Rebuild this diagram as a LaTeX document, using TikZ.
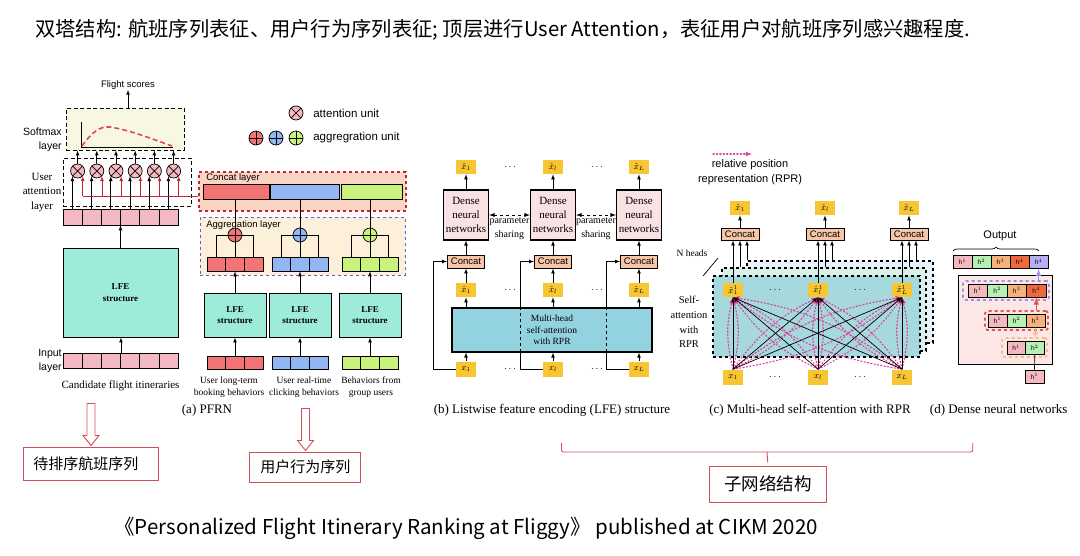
\documentclass[tikz,border=0pt]{standalone}
\usepackage{fontspec}
\setmainfont{Liberation Serif}
\setsansfont{Liberation Sans}
\newfontfamily\cjk{Noto Sans CJK SC}
\usetikzlibrary{positioning,decorations.pathreplacing}
\newcommand{\setsz}[2]{\fontsize{#1}{#2}\selectfont}

\definecolor{cellpink}{HTML}{F4B8C1}
\definecolor{lfegreen}{HTML}{9DEBD9}
\definecolor{softfill}{HTML}{F8F8E2}
\definecolor{softcurve}{HTML}{E2445A}
\definecolor{catred}{HTML}{C0263C}
\definecolor{catfill}{HTML}{F9D5C2}
\definecolor{aggline}{HTML}{6A5ACD}
\definecolor{aggfill}{HTML}{FDF0DA}
\definecolor{barred}{HTML}{F27474}
\definecolor{barblue}{HTML}{92B6F2}
\definecolor{bargreen}{HTML}{C8F27C}
\definecolor{xyellow}{HTML}{F9C633}
\definecolor{densefill}{HTML}{F9E2E4}
\definecolor{concatfill}{HTML}{F7C6A8}
\definecolor{mhfill}{HTML}{93D3DF}
\definecolor{rprpink}{HTML}{E0409E}
\definecolor{headA}{HTML}{A6D9DE}
\definecolor{headB}{HTML}{D8EFEA}
\definecolor{headC}{HTML}{E7F2FA}
\definecolor{dnnfill}{HTML}{FDE6E6}
\definecolor{hpink}{HTML}{F4B8C1}
\definecolor{hgreen}{HTML}{B6F0B2}
\definecolor{horange}{HTML}{F6B27C}
\definecolor{hred}{HTML}{EE6A3C}
\definecolor{hlav}{HTML}{B6B0F2}
\definecolor{dnnpurple}{HTML}{9C90EA}
\definecolor{dnnred}{HTML}{E3563C}
\definecolor{dnnorange}{HTML}{F6BC88}
\definecolor{annored}{HTML}{D24E58}

\begin{document}
\begin{tikzpicture}[x=1pt, y=-1pt, >=latex, line width=0.7pt, font=\rmfamily]
  \tikzstyle{lab}=[inner sep=0pt, align=center]
  \tikzstyle{cell}=[draw, fill=cellpink, minimum width=19.2, minimum height=16, inner sep=0pt]
  \tikzstyle{bcell}=[draw, minimum width=18.7, minimum height=14, inner sep=0pt]
  \tikzstyle{att}=[circle, draw, fill=cellpink, minimum size=14, inner sep=0pt,
                   path picture={\draw (path picture bounding box.north west) -- (path picture bounding box.south east)
                                       (path picture bounding box.north east) -- (path picture bounding box.south west);}]
  \tikzstyle{agg}=[circle, draw, minimum size=14, inner sep=0pt,
                   path picture={\draw (path picture bounding box.north) -- (path picture bounding box.south)
                                       (path picture bounding box.west) -- (path picture bounding box.east);}]
  \tikzstyle{softbox}=[draw, dash pattern=on 4pt off 2.5pt, line width=1pt, fill=softfill, inner sep=0pt]
  \tikzstyle{attbox}=[draw, dash pattern=on 4pt off 2.5pt, line width=1pt, inner sep=0pt]
  \tikzstyle{catbox}=[draw=catred, dashed, line width=1.6pt, fill=catfill, inner sep=0pt]
  \tikzstyle{aggbox}=[draw=aggline, dashed, line width=1pt, fill=aggfill, inner sep=0pt]
  \tikzstyle{bar}=[draw, line width=1pt, minimum height=15, inner sep=0pt]
  \tikzstyle{lfebox}=[draw, line width=1pt, fill=lfegreen, align=center, inner sep=0pt,
                      font=\bfseries\setsz{9}{11.7}]
  \tikzstyle{xbox}=[fill=xyellow, minimum width=20, minimum height=14, inner sep=0pt, font=\setsz{9}{10}]
  \tikzstyle{dense}=[draw, line width=1.2pt, fill=densefill, minimum width=45, minimum height=50,
                     align=center, inner sep=0pt, font=\setsz{11}{14}]
  \tikzstyle{concat}=[draw, line width=1pt, fill=concatfill, minimum width=37, minimum height=13,
                      inner sep=0pt, font=\sffamily\setsz{9.5}{10}]
  \tikzstyle{mhbox}=[draw, line width=1.2pt, fill=mhfill, align=center, inner sep=0pt, font=\setsz{9.5}{11.5}]
  \tikzstyle{headbox}=[draw, dashed, line width=1.2pt, inner sep=0pt]
  \tikzstyle{rpr}=[rprpink, line width=1.2pt, dash pattern=on 1.2pt off 2.2pt, line cap=round, ->]
  \tikzstyle{hcell}=[draw, minimum width=19, minimum height=13, inner sep=0pt, font=\sffamily\setsz{6.5}{7}]
  \tikzstyle{grpbox}=[dashed, line width=1.8pt, rounded corners=2.5pt, inner sep=0pt]
  \tikzstyle{redbox}=[draw=annored, line width=0.9pt, inner sep=0pt]
  \tikzset{hollowdn/.pic={\draw[annored, fill=white, line width=0.9pt]
      (-4,0) -- (4,0) -- (4,32) -- (8,32) -- (0,42) -- (-8,32) -- (-4,32) -- cycle;}}

  \useasboundingbox (0,0) rectangle (1080,555);

  % ================= tieu de va chu thich duoi =================
  \node[lab, anchor=west, font=\cjk\setsz{20.3}{22}] (title) at (35,30)
    {双塔结构: 航班序列表征、用户行为序列表征; 顶层进行User Attention，表征用户对航班序列感兴趣程度.};
  \node[lab, anchor=west, font=\cjk\setsz{20.5}{22}] (foot) at (114,528)
    {《Personalized Flight Itinerary Ranking at Fliggy》 published at CIKM 2020};

  % ================= (a) PFRN: cot trai =================
  \node[lab, font=\sffamily\setsz{9.5}{10}] (fscore) at (128,85) {Flight scores};
  \node[softbox, minimum width=118, minimum height=42] (soft) at (125,129) {};
  \node[lab, anchor=east, align=right, font=\sffamily\setsz{10.5}{14}] (softlab) at (62,140) {Softmax\\layer};
  \draw (81,122) -- (81,147) -- (173,147);
  \draw[softcurve, line width=1.6pt, dash pattern=on 5pt off 3pt]
    (82,146) .. controls (92,132) and (100,126) .. (110,127)
             .. controls (130,130) and (155,140) .. (172,146);
  \draw[->] (fscore.south |- soft.north) -- (fscore.south);

  \node[attbox, minimum width=128, minimum height=48] (attl) at (127,182) {};
  \node[lab, font=\setsz{11}{14.5}] (attlab) at (42,192.5) {User\\attention\\layer};
  \coordinate (ujoin) at (200,196);
  \foreach \i in {1,...,6} {
    \node[cell] (e\i) at ({53.4+19.2*\i},217) {};
    \node[att] (u\i) at ({58.4+19.2*\i},171) {};
    \draw[->] (u\i.-135 |- e\i.north) -- (u\i.-135);
    \draw[->] (u\i.north) -- (u\i.north |- soft.south);
  }

  \node[lfebox, minimum width=115, minimum height=89] (lfe0) at (120.5,292.5) {LFE\\structure};
  \draw[->] (lfe0.north) -- (lfe0.north |- e1.south);
  \foreach \i in {1,...,6}
    \node[cell, minimum height=15] (in\i) at ({53.4+19.2*\i},360.5) {};
  \draw[->] (in3.north east) -- (in3.north east |- lfe0.south);
  \node[lab, anchor=east, align=right, font=\sffamily\setsz{10.5}{14}] (inlab) at (62,361) {Input\\layer};
  \node[lab, font=\setsz{11}{13}] (candlab) at (120.5,386) {Candidate flight itineraries};

  % ================= (a) PFRN: nhanh hanh vi nguoi dung =================
  \node[att] (legatt) at (296,113) {};
  \node[lab, anchor=west, font=\sffamily\setsz{11.5}{13}] (legattlab) at (313,113) {attention unit};
  \node[agg, fill=barred] (legr) at (256,138) {};
  \node[agg, fill=barblue] (legb) at (276,138) {};
  \node[agg, fill=bargreen] (legg) at (296,138) {};
  \node[lab, anchor=west, font=\sffamily\setsz{11.5}{13}] (legagglab) at (313,138) {aggregration unit};

  \node[catbox, minimum width=207, minimum height=39] (catl) at (302.5,191.5) {};
  \node[lab, anchor=west, font=\sffamily\setsz{9.5}{10}] (catlab) at (206,178) {Concat layer};
  \node[bar, fill=barred, minimum width=66] (cbr) at (236,191.5) {};
  \node[bar, fill=barblue, minimum width=69] (cbb) at (304.5,191.5) {};
  \node[bar, fill=bargreen, minimum width=61] (cbg) at (371.5,191.5) {};
  % duong do: concat layer -> cac attention unit
  \draw[catred] (catl.west |- ujoin) -- (u1.-45 |- ujoin);
  \foreach \i in {1,...,6}
    \draw[catred, ->] (u\i.-45 |- ujoin) -- (u\i.-45);

  \node[aggbox, minimum width=205, minimum height=58] (aggl) at (302.5,246) {};
  \node[lab, anchor=west, font=\sffamily\setsz{9.5}{10}] (agglab) at (206,225) {Aggregation layer};
  \foreach \g/\gx/\col in {r/235/barred, b/300/barblue, g/370/bargreen} {
    \node[agg, fill=\col] (a\g) at (\gx,235) {};
    \foreach \k/\dx in {1/-18.7, 2/0, 3/18.7} {
      \node[bcell, fill=\col] (m\g\k) at ({\gx+\dx},264) {};
      \node[bcell, fill=\col, minimum height=13] (b\g\k) at ({\gx+\dx},362.5) {};
    }
    \draw (m\g2.north) -- (a\g.south);
    \draw (m\g1.north) |- (a\g.west);
    \draw (m\g3.north) |- (a\g.east);
    \draw (a\g.north) -- (a\g.north |- cb\g.south);
    \node[lfebox, minimum width=62, minimum height=44] (l\g) at (\gx,315) {LFE\\structure};
    \draw[->] (l\g.north) -- (m\g2.south);
    \draw[->] (b\g2.north) -- (l\g.south);
  }
  \node[lab, font=\setsz{9.5}{11.7}] (behr) at (229,387.5) {User long-term\\booking behaviors};
  \node[lab, font=\setsz{9.5}{11.7}] (behb) at (304,387.5) {User real-time\\clicking behaviors};
  \node[lab, font=\setsz{9.5}{11.7}] (behg) at (371,387.5) {Behaviors from\\group users};
  \node[lab, font=\setsz{13}{14}] (capa) at (207,410) {(a) PFRN};

  % ================= (b) LFE structure =================
  \foreach \i/\bx/\lbl in {1/466/1, 2/553/l, 3/639/L} {
    \node[xbox] (bt\i) at (\bx,167) {$\hat{x}_{\lbl}$};
    \node[dense] (bd\i) at (\bx,215) {Dense\\neural\\networks};
    \node[concat] (bc\i) at (\bx,261.5) {Concat};
    \node[xbox] (bm\i) at (\bx,290) {$\hat{x}_{\lbl}$};
    \node[xbox, minimum height=15] (bb\i) at (\bx,369) {$x_{\lbl}$};
  }
  \foreach \i in {1,2,3}
    \draw[->] (bb\i.west) -- ++(-22,0) |- (bc\i.west);
  \node[mhbox, minimum width=200, minimum height=44] (mh) at (552,330) {Multi-head\\self-attention\\with RPR};
  \foreach \i in {2,3}
    \draw[dashed, line width=1pt] ([xshift=-22]bb\i.west |- mh.north) -- ([xshift=-22]bb\i.west |- mh.south);
  \foreach \i in {1,2,3} {
    \draw[->] (bb\i.north) -- (bb\i.north |- mh.south);
    \draw[->] (bm\i.south |- mh.north) -- (bm\i.south);
    \draw[->] (bm\i.north) -- (bc\i.south);
    \draw[->] (bc\i.north) -- (bd\i.south);
    \draw[->] (bd\i.north) -- (bt\i.south);
  }
  \draw[<->, dashed, line width=0.9pt] (bd1.east) -- (bd2.west);
  \draw[<->, dashed, line width=0.9pt] (bd2.east) -- (bd3.west);
  \node[lab, font=\setsz{10}{13.5}] (share1) at (509.5,229) {parameter\\sharing};
  \node[lab, font=\setsz{10}{13.5}] (share2) at (596,229) {parameter\\sharing};
  \foreach \dy in {167,290,369} {
    \node[lab] at (510,\dy) {$\cdots$};
    \node[lab] at (597,\dy) {$\cdots$};
  }
  \node[lab, font=\setsz{13}{14}] (capb) at (552,410) {(b) Listwise feature encoding (LFE) structure};

  % ================= (c) Multi-head self-attention =================
  \coordinate (rprA) at (713,154);
  \coordinate (rprB) at (752,154);
  \draw[rpr] (rprA) -- (rprB);
  \node[lab, font=\sffamily\setsz{11}{15}] (rprlab) at (750,172.5) {relative position\\representation (RPR)};

  \node[headbox, fill=headC, minimum width=186, minimum height=82] (hC) at (840,302) {};
  \node[headbox, fill=headB, minimum width=204, minimum height=83] (hB) at (824,309.5) {};
  \node[headbox, fill=headA, minimum width=207, minimum height=81] (hA) at (816.5,316.5) {};
  \node[lab, font=\setsz{9.5}{11}] (nheads) at (692,253) {N heads};
  \draw (703,276) -- (718,258);
  \node[lab, font=\setsz{10.5}{14.6}] (salab) at (689,322) {Self-\\attention\\with\\RPR};

  \foreach \i/\cx/\lbl in {1/733/1, 2/818/l, 3/902/L} {
    \node[xbox] (ct\i) at ({\cx+7},208) {$\hat{x}_{\lbl}$};
    \node[concat, minimum width=38, minimum height=12] (cc\i) at ({\cx+7},234) {Concat};
    \node[xbox] (ch\i) at (\cx,290) {${\hat{x}}{}^{1}_{\lbl}$};
    \node[xbox, minimum height=15] (cx\i) at (\cx,377) {$x_{\lbl}$};
    \draw[->] (cc\i.north) -- (ct\i.south);
    \draw[->] (ch\i.north) -- (ch\i.north |- cc\i.south);
    \draw[->] ([xshift=7]ch\i.north |- hB.north) -- ([xshift=7]ch\i.north |- cc\i.south);
    \draw[->] ([xshift=14]ch\i.north |- hC.north) -- ([xshift=14]ch\i.north |- cc\i.south);
  }
  \foreach \s in {1,2,3}
    \foreach \d in {1,2,3} {
      \draw[rpr] (cx\s.north) to[bend left=14] (ch\d.south);
      \draw[rpr] (cx\s.north) to[bend right=14] (ch\d.south);
    }
  \foreach \s in {1,2,3}
    \foreach \d in {1,2,3}
      \draw[->] (cx\s.north) -- (ch\d.south);
  \foreach \dy in {290,377} {
    \node[lab] at (775,\dy) {$\cdots$};
    \node[lab] at (860,\dy) {$\cdots$};
  }
  \node[lab, font=\setsz{13}{14}] (capc) at (810,410) {(c) Multi-head self-attention with RPR};

  % ================= (d) Dense neural networks =================
  \node[lab, font=\sffamily\setsz{11}{12}] (outlab) at (1000,236) {Output};
  \draw[decorate, decoration={brace, amplitude=4}] (953,251) -- (1039,251);
  \foreach \i/\col/\hs in {1/hpink/1, 2/hgreen/2, 3/horange/3, 4/hred/4, 5/hlav/4}
    \node[hcell, fill=\col] (o\i) at ({943.5+19*\i},262) {h$^{\hs}$};
  \node[draw, line width=1pt, fill=dnnfill, minimum width=94, minimum height=89] (dnn) at (1005,319.5) {};
  \node[grpbox, draw=dnnpurple, minimum width=86, minimum height=19] (gp) at (1006,290.5) {};
  \node[grpbox, draw=dnnred, minimum width=63, minimum height=19] (gr) at (1016.5,320.5) {};
  \node[grpbox, draw=dnnorange, minimum width=45, minimum height=19] (go) at (1024.5,347.5) {};
  \foreach \i/\col in {1/hpink, 2/hgreen, 3/horange, 4/hred}
    \node[hcell, fill=\col, minimum width=19.5] (ra\i) at ({958.25+19.5*\i},290.5) {h$^{\i}$};
  \foreach \i/\col in {1/hpink, 2/hgreen, 3/horange}
    \node[hcell, fill=\col] (rb\i) at ({978.5+19*\i},320.5) {h$^{\i}$};
  \foreach \i/\col in {1/hpink, 2/hgreen}
    \node[hcell, fill=\col, minimum width=18.5] (rc\i) at ({997.75+18.5*\i},348) {h$^{\i}$};
  \node[hcell, fill=hpink] (hin) at (1034.5,376.5) {h$^{1}$};
  \draw (hin.north) -- (rc2.south);
  \draw[dnnorange, line width=1.5pt, ->] (rb3.south |- go.north) -- (rb3.south);
  \draw[dnnred, line width=1.5pt, ->] (ra4.south |- gr.north) -- (ra4.south);
  \draw[dnnpurple, line width=1.5pt, ->] (o5.south |- gp.north) -- (o5.south);
  \node[lab, font=\setsz{13}{14}] (capd) at (998.7,410) {(d) Dense neural networks};

  % ================= chu thich mau do =================
  \pic at (91,403.5) {hollowdn};
  \pic at (305.5,408.5) {hollowdn};
  \node[redbox, minimum width=135, minimum height=33] (cand) at (91,464) {};
  \node[lab, anchor=west, font=\cjk\setsz{15}{16}] (candtxt) at (33,464) {待排序航班序列};
  \node[redbox, minimum width=111, minimum height=29.5, font=\cjk\setsz{15}{16}] (ubeh) at (305.4,467.3) {用户行为序列};
  \coordinate (brL) at (561.5,443);
  \coordinate (brR) at (972.7,443);
  \coordinate (brM) at (767,452);
  \node[redbox, minimum width=117.6, minimum height=36, font=\cjk\setsz{17.5}{18}] (subnet) at (767.8,484) {子网络结构};
  \draw[annored, line width=0.9pt, rounded corners=2pt] (brL) |- (brM) -| (brR);
  \draw[annored, line width=0.9pt] (brM) -- ([yshift=3]subnet.north);
\end{tikzpicture}
\end{document}
